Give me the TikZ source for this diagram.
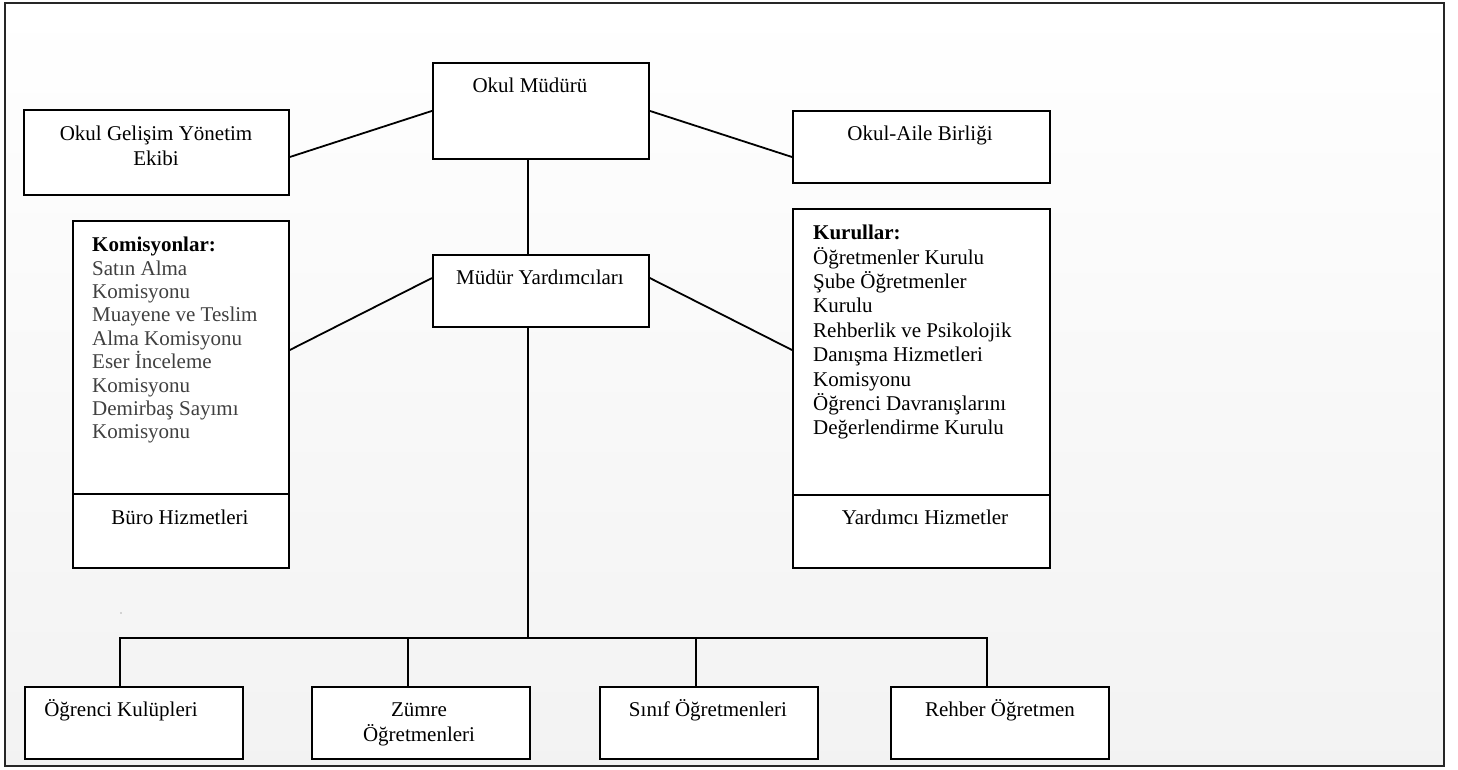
\documentclass[tikz,border=0pt]{standalone}
\usepackage{fontspec}
\setmainfont{Liberation Serif}
\usetikzlibrary{calc}
\begin{document}
\begin{tikzpicture}[x=1pt,y=-1pt,
  box/.style={draw=black, line width=1.8pt, fill=white, inner sep=0pt, anchor=north west},
  txt/.style={font=\fontsize{21}{25}\selectfont, inner sep=0pt, text=black, align=center},
  lstL/.style={font=\fontsize{21}{23.4}\selectfont, inner sep=0pt, align=left, anchor=north west, text=black!75},
  lstR/.style={font=\fontsize{21}{24.4}\selectfont, inner sep=0pt, align=left, anchor=north west, text=black},
  conn/.style={line width=1.8pt}]
\useasboundingbox (0,0) rectangle (1458,769);
\shade[top color=white, bottom color=black!5] (5,3) rectangle (1444,766);
\draw[line width=2.8pt, black!85] (5,3) rectangle (1444,766);

% boxes
\node[box, minimum width=265, minimum height=85] (ogye) at (23,109) {};
\node[box, minimum width=216, minimum height=96] (om) at (432,62) {};
\node[box, minimum width=257, minimum height=72] (oa) at (792,110) {};
\node[box, minimum width=216, minimum height=72] (my) at (432,254) {};
\node[box, minimum width=216, minimum height=273] (kom) at (72,220) {};
\node[box, minimum width=216, minimum height=74] (buro) at (72,493) {};
\node[box, minimum width=257, minimum height=286] (kur) at (792,208) {};
\node[box, minimum width=257, minimum height=73] (yh) at (792,494) {};
\node[box, minimum width=218, minimum height=72] (ok) at (24,686) {};
\node[box, minimum width=218, minimum height=72] (zum) at (311,686) {};
\node[box, minimum width=218, minimum height=72] (sin) at (599,686) {};
\node[box, minimum width=218, minimum height=72] (reh) at (890,686) {};

% texts
\node[txt] (tom) at (530,85) {Okul Müdürü};
\node[txt] (togye) at (156,146) {Okul Gelişim Yönetim\\Ekibi};
\node[txt] (toa) at (920,135) {Okul-Aile Birliği};
\node[txt] (tmy) at (540,277) {Müdür Yardımcıları};
\node[lstL] (tkom) at (92,237) {\textcolor{black}{\textbf{Komisyonlar:}}\\Satın Alma\\Komisyonu\\Muayene ve Teslim\\Alma Komisyonu\\Eser İnceleme\\Komisyonu\\Demirbaş Sayımı\\Komisyonu};
\node[lstR] (tkur) at (813,225) {\textbf{Kurullar:}\\Öğretmenler Kurulu\\Şube Öğretmenler\\Kurulu\\Rehberlik ve Psikolojik\\Danışma Hizmetleri\\Komisyonu\\Öğrenci Davranışlarını\\Değerlendirme Kurulu};
\node[txt] (tburo) at (180,517) {Büro Hizmetleri};
\node[txt] (tyh) at (925,517) {Yardımcı Hizmetler};
\node[txt] (tok) at (121,710) {Öğrenci Kulüpleri};
\node[txt] (tzum) at (419,724) {Zümre\\Öğretmenleri};
\node[txt] (tsin) at (708,710) {Sınıf Öğretmenleri};
\node[txt] (treh) at (1000,710) {Rehber Öğretmen};

% connectors
\draw[conn] ($(ogye.north east)+(0,48)$) -- (om.west);
\draw[conn] (om.east) -- ($(oa.north west)+(0,47)$);
\draw[conn] ($(om.south west)+(96,0)$) -- ($(my.north west)+(96,0)$);
\draw[conn] ($(my.north west)+(0,24)$) -- ($(kom.north east)+(0,130)$);
\draw[conn] ($(my.north east)+(0,24)$) -- ($(kur.north west)+(0,142)$);
\coordinate (bus) at (528,638);
\draw[conn] ($(my.south west)+(96,0)$) -- (bus);
\draw[conn] ($(ok.north west)+(96,0)$) |- (bus) -| ($(reh.north west)+(97,0)$);
\draw[conn] ($(zum.north west)+(97,0)$) -- ++(0,-48);
\draw[conn] ($(sin.north west)+(97,0)$) -- ++(0,-48);
\fill[black!60] (121,613) circle (0.7);
\end{tikzpicture}
\end{document}
